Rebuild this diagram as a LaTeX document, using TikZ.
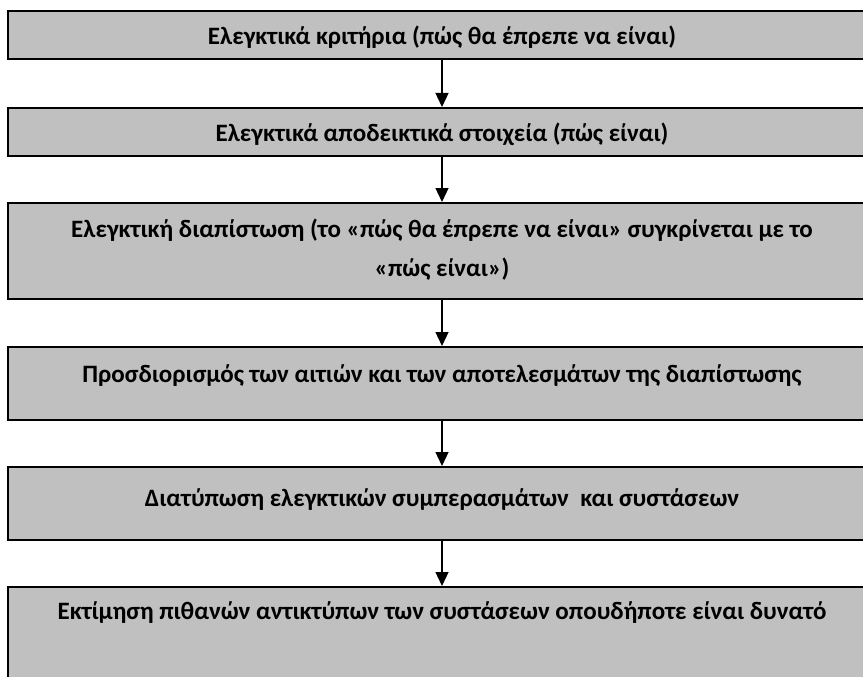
\documentclass[tikz,border=0pt]{standalone}
\usepackage{fontspec}
\setmainfont{Carlito}
\usepackage{tikz}
\usetikzlibrary{arrows.meta,positioning}
\definecolor{boxgray}{HTML}{C0C0C0}
\tikzset{
  stage/.style={draw=black, line width=2pt, fill=boxgray, minimum width=868pt, inner sep=0pt, anchor=north},
  stagetext/.style={font=\bfseries\fontsize{25}{39}\selectfont, align=center, anchor=base, inner sep=0pt},
  flow/.style={-{Triangle[width=13pt,length=14pt]}, line width=1.3pt}
}

\begin{document}
\begin{tikzpicture}[x=1pt,y=1pt]
     \useasboundingbox[fill=white] (0,0) rectangle (863,-677);
        \node[stage, minimum height=48] (b1) at (442,-10) {};
        \node[stage, minimum height=48] (b2) at (442,-107) {};
        \node[stage, minimum height=96] (b3) at (442,-202) {};
        \node[stage, minimum height=73] (b4) at (442,-346) {};
        \node[stage, minimum height=73] (b5) at (442,-466) {};
        \node[stage, minimum height=130] (b6) at (442,-586) {};
          \node[stagetext] (t1) at ([yshift=-35]b1.north) {Ελεγκτικά κριτήρια (πώς θα έπρεπε να είναι)};
          \node[stagetext] (t2) at ([yshift=-35]b2.north) {Ελεγκτικά αποδεικτικά στοιχεία (πώς είναι)};
          % the base of a two-line node is its last line
          \node[stagetext] (t3) at ([yshift=-74]b3.north) {Ελεγκτική διαπίστωση (το «πώς θα έπρεπε να είναι» συγκρίνεται με το\\«πώς είναι»)};
          \node[stagetext] (t4) at ([yshift=-36]b4.north) {Προσδιορισμός των αιτιών και των αποτελεσμάτων της διαπίστωσης};
          \node[stagetext] (t5) at ([yshift=-40]b5.north) {Διατύπωση ελεγκτικών συμπερασμάτων~ και συστάσεων};
          \node[stagetext] (t6) at ([yshift=-33]b6.north) {Εκτίμηση πιθανών αντικτύπων των συστάσεων οπουδήποτε είναι δυνατό};
          \foreach \a/\b in {b1/b2,b2/b3,b3/b4,b4/b5,b5/b6} {
          \draw[flow] (\a) -- (\b);
          }
\end{tikzpicture}
\end{document}
